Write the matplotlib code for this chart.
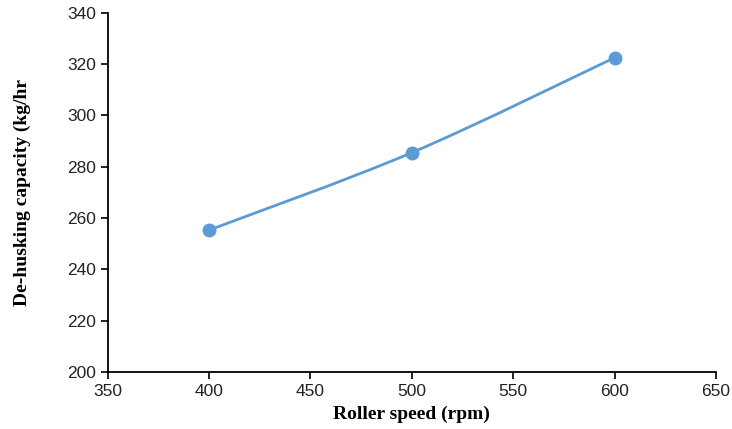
import numpy as np
import matplotlib
matplotlib.use('Agg')
import matplotlib.pyplot as plt
from matplotlib.path import Path
from matplotlib.patches import PathPatch

# data
roller_speed = [400, 500, 600]          # rpm
dehusk_capacity = [255.3, 285.5, 322.5]  # kg/hr

xticks = [350, 400, 450, 500, 550, 600, 650]
yticks = [200, 220, 240, 260, 280, 300, 320, 340]

line_color = '#5B9BD5'

fig = plt.figure(figsize=(7.32, 4.29), dpi=100)
ax = fig.add_axes([0.147, 0.133, 0.831, 0.837])

# smoothed line (Excel-style cubic bezier through the points)
x = np.array(roller_speed, dtype=float)
y = np.array(dehusk_capacity, dtype=float)
n = len(x)
verts = [(x[0], y[0])]
codes = [Path.MOVETO]
for i in range(n - 1):
    p0 = np.array([x[max(i - 1, 0)], y[max(i - 1, 0)]])
    p1 = np.array([x[i], y[i]])
    p2 = np.array([x[i + 1], y[i + 1]])
    p3 = np.array([x[min(i + 2, n - 1)], y[min(i + 2, n - 1)]])
    c1 = p1 + (p2 - p0) / 6.0
    c2 = p2 - (p3 - p1) / 6.0
    verts += [tuple(c1), tuple(c2), tuple(p2)]
    codes += [Path.CURVE4, Path.CURVE4, Path.CURVE4]
ax.add_patch(PathPatch(Path(verts, codes), facecolor='none',
                       edgecolor=line_color, linewidth=2.0, zorder=2))
ax.plot(roller_speed, dehusk_capacity, linestyle='none', marker='o',
        markersize=9, color=line_color, zorder=3)

ax.set_xlim(350, 650)
ax.set_ylim(200, 340)
ax.set_xticks(xticks)
ax.set_yticks(yticks)

for side in ['top', 'right']:
    ax.spines[side].set_visible(False)
for side in ['left', 'bottom']:
    ax.spines[side].set_linewidth(1.3)
    ax.spines[side].set_color('black')
ax.tick_params(direction='out', length=5, width=1.2, labelsize=12.5)
for lab in ax.get_xticklabels() + ax.get_yticklabels():
    lab.set_family('Liberation Sans')
    lab.set_color('#222222')

ax.set_xlabel('Roller speed (rpm)', family='Liberation Serif',
              fontweight='bold', fontsize=14, labelpad=5)
ax.set_ylabel('De-husking capacity (kg/hr', family='Liberation Serif',
              fontweight='bold', fontsize=14, labelpad=26)

plt.savefig('out.png', dpi=100)
plt.close(fig)
